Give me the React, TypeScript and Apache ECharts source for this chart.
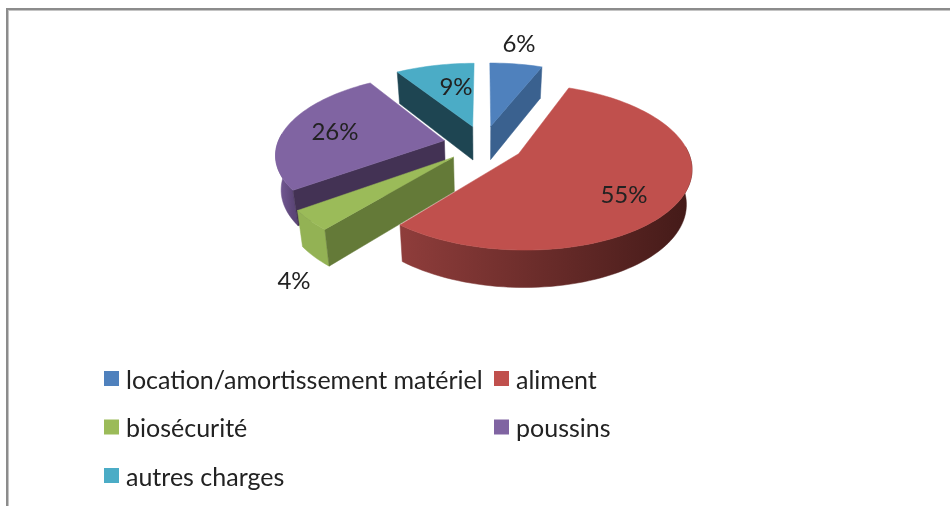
import React, { useEffect, useRef } from "react";
import * as echarts from "echarts";

const categories = ["location/amortissement matériel", "aliment", "biosécurité", "poussins", "autres charges"];
const shares = [6, 55, 4, 26, 9];
const labels = ["6%", "55%", "4%", "26%", "9%"];

const topColors = ["#4f81bd", "#c0504d", "#9bbb59", "#8064a2", "#4bacc6"];
const radialColors = ["#3a618f", "#8c3a38", "#647a38", "#433254", "#1e4552"];
const wallLeftColors = ["#3a618f", "#8f3d3b", "#93b254", "#7a5f9c", "#1e4552"];
const wallRightColors = ["#3a618f", "#431a18", "#93b254", "#5c4678", "#1e4552"];
const drawOrder = [1, 4, 3, 2, 5];
const labelCentres: [number, number][] = [[519, 42], [624, 193], [294, 279], [335, 130], [456, 85]];

const FONT = "Lato, 'Noto Sans', sans-serif";
const CX = 483.5, CY = 144, RX = 167, RY = 78.1, PERSP = 0.155, EXPLODE = 0.24, DEPTH = 34, LOWER_SHRINK = 0.973;

const rad = (d: number) => (d * Math.PI) / 180;

function project(x: number, y: number, lower: boolean): number[] {
  const s = 1 / (1 + PERSP * y);
  const sx = RX * x * s * (lower ? LOWER_SHRINK : 1);
  return [CX + sx, CY - RY * y * s + (lower ? DEPTH * Math.sqrt(s) : 0)];
}

function renderSlice(params: any, api: any) {
  const i = params.seriesIndex;
  const total = shares.reduce((a, b) => a + b, 0);
  const before = shares.slice(0, i).reduce((a, b) => a + b, 0);
  const a0 = (before / total) * 360;
  const a1 = a0 + (api.value(0) / total) * 360;
  const mid = rad((a0 + a1) / 2);
  const ex = EXPLODE * Math.sin(mid);
  const ey = EXPLODE * Math.cos(mid);
  const rim = (deg: number, lower: boolean) => project(ex + Math.sin(rad(deg)), ey + Math.cos(rad(deg)), lower);
  const arc = (from: number, to: number, lower: boolean) => {
    const pts: number[][] = [];
    const n = Math.max(2, Math.ceil(Math.abs(to - from) / 2));
    for (let k = 0; k <= n; k++) pts.push(rim(from + ((to - from) * k) / n, lower));
    return pts;
  };
  const apexTop = project(ex, ey, false);
  const apexLow = project(ex, ey, true);
  const children: any[] = [];

  const w0 = Math.max(a0, 85);
  const w1 = Math.min(a1, 275);
  if (w1 > w0) {
    const up = arc(w0, w1, false);
    const low = arc(w1, w0, true);
    const xs = up.map((p) => p[0]);
    const fill = new echarts.graphic.LinearGradient(
      Math.min(...xs), 0, Math.max(...xs), 0,
      [
        { offset: 0, color: wallLeftColors[i] },
        { offset: 1, color: wallRightColors[i] },
      ],
      true,
    );
    children.push({ type: "polygon", shape: { points: [...up, ...low] }, style: { fill, stroke: fill, lineWidth: 0.5 } });
  }
  const radial = (deg: number) => ({
    type: "polygon",
    shape: { points: [apexTop, rim(deg, false), rim(deg, true), apexLow] },
    style: { fill: radialColors[i], stroke: radialColors[i], lineWidth: 0.5 },
  });
  if (Math.sin(rad(a0)) < -0.01) children.push(radial(a0));
  if (Math.sin(rad(a1)) > 0.01) children.push(radial(a1));
  children.push({
    type: "polygon",
    shape: { points: [apexTop, ...arc(a0, a1, false)] },
    style: { fill: topColors[i], stroke: topColors[i], lineWidth: 0.5 },
  });
  children.push({
    type: "text",
    style: {
      text: labels[i],
      x: labelCentres[i][0],
      y: labelCentres[i][1],
      fill: "#222222",
      font: `24px ${FONT}`,
      align: "center",
      verticalAlign: "middle",
    },
  });
  return { type: "group", children };
}

export default function App() {
  const ref = useRef<HTMLDivElement>(null);
  useEffect(() => {
    const chart = echarts.init(ref.current!, undefined, { renderer: "svg" });
    const legendText = { fontFamily: FONT, fontSize: 25, color: "#222222", padding: [0, 0, 0, 2] };
    chart.setOption({
      animation: false,
      backgroundColor: "#ffffff",
      legend: [
        {
          orient: "vertical", left: 99, top: 361, itemWidth: 15, itemHeight: 15, itemGap: 23.5,
          icon: "rect", selectedMode: false, textStyle: legendText,
          data: [categories[0], categories[2], categories[4]],
        },
        {
          orient: "vertical", left: 489, top: 361, itemWidth: 15, itemHeight: 15, itemGap: 23.5,
          icon: "rect", selectedMode: false, textStyle: legendText,
          data: [categories[1], categories[3]],
        },
      ],
      graphic: [
        { type: "rect", silent: true, shape: { x: 6, y: 8, width: 944, height: 2 }, style: { fill: "#8c8c8c" } },
        { type: "rect", silent: true, shape: { x: 6, y: 10, width: 944, height: 1 }, style: { fill: "#c4c4c4" } },
        { type: "rect", silent: true, shape: { x: 6, y: 8, width: 2, height: 498 }, style: { fill: "#8c8c8c" } },
        { type: "rect", silent: true, shape: { x: 8, y: 10, width: 1, height: 496 }, style: { fill: "#c4c4c4" } },
      ],
      series: categories.map((name, i) => ({
        type: "custom",
        name,
        coordinateSystem: "none",
        silent: true,
        z: drawOrder[i] + 2,
        itemStyle: { color: topColors[i] },
        data: [shares[i]],
        renderItem: renderSlice,
      })),
    });
    return () => chart.dispose();
  }, []);
  return <div ref={ref} style={{ position: "fixed", left: 0, top: 0, width: 950, height: 506, filter: "blur(0.6px)" }} />;
}
